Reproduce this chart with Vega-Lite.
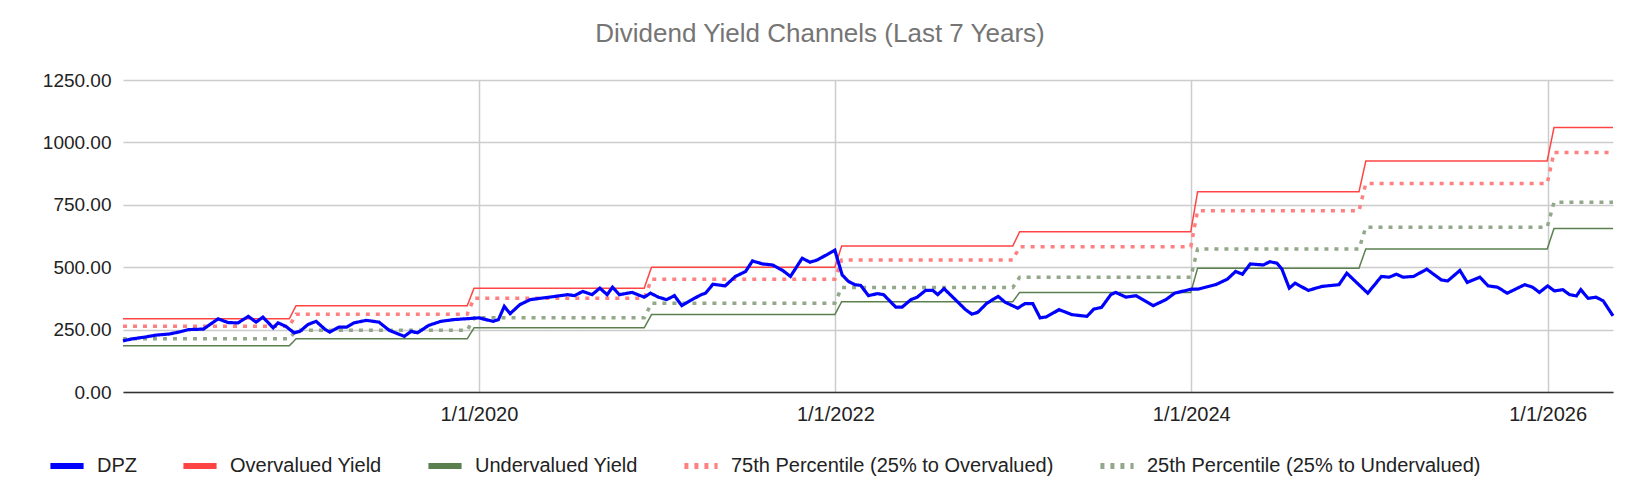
{
  "$schema": "https://vega.github.io/schema/vega-lite/v6.json",
  "width": 1490,
  "height": 312,
  "autosize": "none",
  "padding": {"left": 123, "top": 80, "right": 23, "bottom": 102},
  "title": {"text": "Dividend Yield Channels (Last 7 Years)", "font": "Arial", "fontSize": 26, "fontWeight": "normal", "color": "#757575", "offset": 24, "dx": -48},
  "config": {"view": {"stroke": null}, "font": "Arial"},
  "datasets": {
    "dpz": [
      {"date": "2018-01-01", "v": 205}, {"date": "2018-01-20", "v": 213}, {"date": "2018-02-15", "v": 220}, {"date": "2018-03-10", "v": 228}, {"date": "2018-04-05", "v": 232},
      {"date": "2018-04-25", "v": 240}, {"date": "2018-05-15", "v": 250}, {"date": "2018-06-15", "v": 252}, {"date": "2018-07-15", "v": 293}, {"date": "2018-08-05", "v": 278},
      {"date": "2018-08-25", "v": 277}, {"date": "2018-09-15", "v": 303}, {"date": "2018-10-01", "v": 280}, {"date": "2018-10-15", "v": 300}, {"date": "2018-11-05", "v": 257},
      {"date": "2018-11-15", "v": 277}, {"date": "2018-12-01", "v": 263}, {"date": "2018-12-18", "v": 237}, {"date": "2018-12-30", "v": 243}, {"date": "2019-01-15", "v": 270},
      {"date": "2019-02-01", "v": 283}, {"date": "2019-02-20", "v": 250}, {"date": "2019-03-01", "v": 240}, {"date": "2019-03-20", "v": 260}, {"date": "2019-04-05", "v": 260},
      {"date": "2019-04-20", "v": 277}, {"date": "2019-05-15", "v": 287}, {"date": "2019-06-10", "v": 280}, {"date": "2019-07-01", "v": 247}, {"date": "2019-08-01", "v": 223},
      {"date": "2019-08-15", "v": 243}, {"date": "2019-08-28", "v": 237}, {"date": "2019-09-20", "v": 267}, {"date": "2019-10-15", "v": 283}, {"date": "2019-11-10", "v": 290},
      {"date": "2020-01-01", "v": 297}, {"date": "2020-01-30", "v": 283}, {"date": "2020-02-10", "v": 290}, {"date": "2020-02-22", "v": 343}, {"date": "2020-03-05", "v": 314},
      {"date": "2020-03-25", "v": 350}, {"date": "2020-04-15", "v": 370}, {"date": "2020-06-05", "v": 383}, {"date": "2020-07-01", "v": 390}, {"date": "2020-07-15", "v": 386},
      {"date": "2020-08-01", "v": 403}, {"date": "2020-08-20", "v": 390}, {"date": "2020-09-05", "v": 416}, {"date": "2020-09-20", "v": 390}, {"date": "2020-10-01", "v": 420},
      {"date": "2020-10-15", "v": 390}, {"date": "2020-11-10", "v": 399}, {"date": "2020-12-05", "v": 380}, {"date": "2020-12-18", "v": 396}, {"date": "2021-01-03", "v": 380},
      {"date": "2021-01-20", "v": 370}, {"date": "2021-02-05", "v": 386}, {"date": "2021-02-20", "v": 346}, {"date": "2021-03-10", "v": 367}, {"date": "2021-04-01", "v": 390},
      {"date": "2021-04-10", "v": 396}, {"date": "2021-04-25", "v": 432}, {"date": "2021-05-20", "v": 425}, {"date": "2021-06-10", "v": 463}, {"date": "2021-07-01", "v": 483},
      {"date": "2021-07-15", "v": 525}, {"date": "2021-08-05", "v": 513}, {"date": "2021-08-25", "v": 509}, {"date": "2021-09-15", "v": 487}, {"date": "2021-10-01", "v": 463},
      {"date": "2021-10-25", "v": 536}, {"date": "2021-11-10", "v": 520}, {"date": "2021-11-25", "v": 529}, {"date": "2021-12-31", "v": 568}, {"date": "2022-01-15", "v": 469},
      {"date": "2022-01-28", "v": 443}, {"date": "2022-02-10", "v": 430}, {"date": "2022-02-22", "v": 427}, {"date": "2022-03-10", "v": 386}, {"date": "2022-03-28", "v": 394},
      {"date": "2022-04-10", "v": 390}, {"date": "2022-05-05", "v": 340}, {"date": "2022-05-18", "v": 340}, {"date": "2022-06-05", "v": 370}, {"date": "2022-06-18", "v": 380},
      {"date": "2022-07-05", "v": 407}, {"date": "2022-07-20", "v": 407}, {"date": "2022-07-30", "v": 390}, {"date": "2022-08-12", "v": 414}, {"date": "2022-09-01", "v": 376},
      {"date": "2022-09-25", "v": 330}, {"date": "2022-10-08", "v": 312}, {"date": "2022-10-20", "v": 319}, {"date": "2022-11-08", "v": 356}, {"date": "2022-12-01", "v": 383},
      {"date": "2022-12-15", "v": 360}, {"date": "2023-01-10", "v": 336}, {"date": "2023-01-25", "v": 354}, {"date": "2023-02-10", "v": 354}, {"date": "2023-02-25", "v": 297},
      {"date": "2023-03-10", "v": 301}, {"date": "2023-04-05", "v": 330}, {"date": "2023-05-01", "v": 310}, {"date": "2023-06-01", "v": 303}, {"date": "2023-06-15", "v": 332},
      {"date": "2023-07-01", "v": 339}, {"date": "2023-07-20", "v": 390}, {"date": "2023-07-30", "v": 399}, {"date": "2023-08-20", "v": 380}, {"date": "2023-09-10", "v": 386},
      {"date": "2023-10-15", "v": 346}, {"date": "2023-11-10", "v": 370}, {"date": "2023-11-28", "v": 396}, {"date": "2024-01-01", "v": 412}, {"date": "2024-01-15", "v": 412},
      {"date": "2024-02-20", "v": 430}, {"date": "2024-03-15", "v": 452}, {"date": "2024-04-01", "v": 483}, {"date": "2024-04-15", "v": 472}, {"date": "2024-05-01", "v": 513},
      {"date": "2024-05-28", "v": 509}, {"date": "2024-06-10", "v": 522}, {"date": "2024-06-25", "v": 516}, {"date": "2024-07-05", "v": 492}, {"date": "2024-07-20", "v": 416},
      {"date": "2024-08-01", "v": 436}, {"date": "2024-08-28", "v": 407}, {"date": "2024-09-25", "v": 423}, {"date": "2024-10-30", "v": 430}, {"date": "2024-11-15", "v": 476},
      {"date": "2024-12-28", "v": 396}, {"date": "2025-01-25", "v": 463}, {"date": "2025-02-10", "v": 460}, {"date": "2025-02-25", "v": 472}, {"date": "2025-03-10", "v": 460},
      {"date": "2025-04-01", "v": 463}, {"date": "2025-04-28", "v": 492}, {"date": "2025-05-28", "v": 449}, {"date": "2025-06-10", "v": 445}, {"date": "2025-07-05", "v": 487},
      {"date": "2025-07-20", "v": 439}, {"date": "2025-08-15", "v": 460}, {"date": "2025-09-01", "v": 425}, {"date": "2025-09-20", "v": 420}, {"date": "2025-10-10", "v": 396},
      {"date": "2025-11-15", "v": 430}, {"date": "2025-12-01", "v": 420}, {"date": "2025-12-15", "v": 399}, {"date": "2026-01-01", "v": 425}, {"date": "2026-01-15", "v": 405},
      {"date": "2026-02-01", "v": 410}, {"date": "2026-02-15", "v": 390}, {"date": "2026-03-01", "v": 385}, {"date": "2026-03-10", "v": 410}, {"date": "2026-03-25", "v": 375},
      {"date": "2026-04-10", "v": 380}, {"date": "2026-04-25", "v": 365}, {"date": "2026-05-15", "v": 305}
    ],
    "steps": [
      {"date": "2018-01-01", "over": 293, "p75": 263, "p25": 213, "under": 185},
      {"date": "2018-12-08", "over": 293, "p75": 263, "p25": 213, "under": 185},
      {"date": "2018-12-22", "over": 346, "p75": 312, "p25": 247, "under": 213},
      {"date": "2019-12-08", "over": 346, "p75": 312, "p25": 247, "under": 213},
      {"date": "2019-12-22", "over": 416, "p75": 376, "p25": 297, "under": 257},
      {"date": "2020-12-05", "over": 416, "p75": 376, "p25": 297, "under": 257},
      {"date": "2020-12-20", "over": 500, "p75": 452, "p25": 356, "under": 310},
      {"date": "2021-12-31", "over": 500, "p75": 452, "p25": 356, "under": 310},
      {"date": "2022-01-14", "over": 585, "p75": 529, "p25": 419, "under": 362},
      {"date": "2022-12-31", "over": 585, "p75": 529, "p25": 419, "under": 362},
      {"date": "2023-01-14", "over": 642, "p75": 582, "p25": 460, "under": 399},
      {"date": "2023-12-31", "over": 642, "p75": 582, "p25": 460, "under": 399},
      {"date": "2024-01-14", "over": 802, "p75": 726, "p25": 573, "under": 496},
      {"date": "2024-12-10", "over": 802, "p75": 726, "p25": 573, "under": 496},
      {"date": "2024-12-24", "over": 925, "p75": 835, "p25": 660, "under": 573},
      {"date": "2025-12-31", "over": 925, "p75": 835, "p25": 660, "under": 573},
      {"date": "2026-01-14", "over": 1060, "p75": 960, "p25": 760, "under": 655},
      {"date": "2026-05-15", "over": 1060, "p75": 960, "p25": 760, "under": 655}
    ]
  },
  "encoding": {
    "x": {
      "field": "date", "type": "temporal", "title": null,
      "scale": {"domain": ["2018-01-01", "2026-05-15"]},
      "axis": {"values": ["2020-01-01T00:00:00", "2022-01-01T00:00:00", "2024-01-01T00:00:00", "2026-01-01T00:00:00"], "format": "%-m/%-d/%Y", "labelFontSize": 20, "labelColor": "#222", "ticks": false, "domainColor": "#333", "domainWidth": 1.5, "gridColor": "#ccc", "gridWidth": 1.5, "labelPadding": 12}
    },
    "y": {
      "field": "v", "type": "quantitative", "title": null,
      "scale": {"domain": [0, 1250], "nice": false},
      "axis": {"values": [0, 250, 500, 750, 1000, 1250], "format": ".2f", "labelFontSize": 19, "labelColor": "#222", "ticks": false, "domain": false, "gridColor": "#ccc", "gridWidth": 1.5, "labelPadding": 12}
    },
    "color": {
      "field": "series", "type": "nominal",
      "scale": {"domain": ["DPZ", "Overvalued Yield", "Undervalued Yield", "75th Percentile (25% to Overvalued)", "25th Percentile (25% to Undervalued)"], "range": ["#0000ff", "#ff4444", "#5b7f4f", "#ff8080", "#93a88a"]},
      "legend": {"title": null, "orient": "none", "legendX": -76, "legendY": 366, "direction": "horizontal", "symbolType": "stroke", "symbolStrokeWidth": 6, "symbolSize": 1100, "labelFontSize": 20, "labelColor": "#222", "labelLimit": 0, "columnPadding": 34, "labelOffset": 10}
    },
    "strokeDash": {
      "field": "series", "type": "nominal",
      "scale": {"domain": ["DPZ", "Overvalued Yield", "Undervalued Yield", "75th Percentile (25% to Overvalued)", "25th Percentile (25% to Undervalued)"], "range": [[1, 0], [1, 0], [1, 0], [4, 6], [4, 6]]}
    }
  },
  "layer": [
    {
      "data": {"name": "steps"},
      "transform": [
        {"fold": ["over", "under"], "as": ["key", "v"]},
        {"calculate": "datum.key == 'over' ? 'Overvalued Yield' : 'Undervalued Yield'", "as": "series"}
      ],
      "mark": {"type": "line", "strokeWidth": 1.5}
    },
    {
      "data": {"name": "steps"},
      "transform": [
        {"fold": ["p75", "p25"], "as": ["key", "v"]},
        {"calculate": "datum.key == 'p75' ? '75th Percentile (25% to Overvalued)' : '25th Percentile (25% to Undervalued)'", "as": "series"}
      ],
      "mark": {"type": "line", "strokeWidth": 3.5}
    },
    {
      "data": {"name": "dpz"},
      "transform": [{"calculate": "'DPZ'", "as": "series"}],
      "mark": {"type": "line", "strokeWidth": 3.2}
    }
  ]
}
